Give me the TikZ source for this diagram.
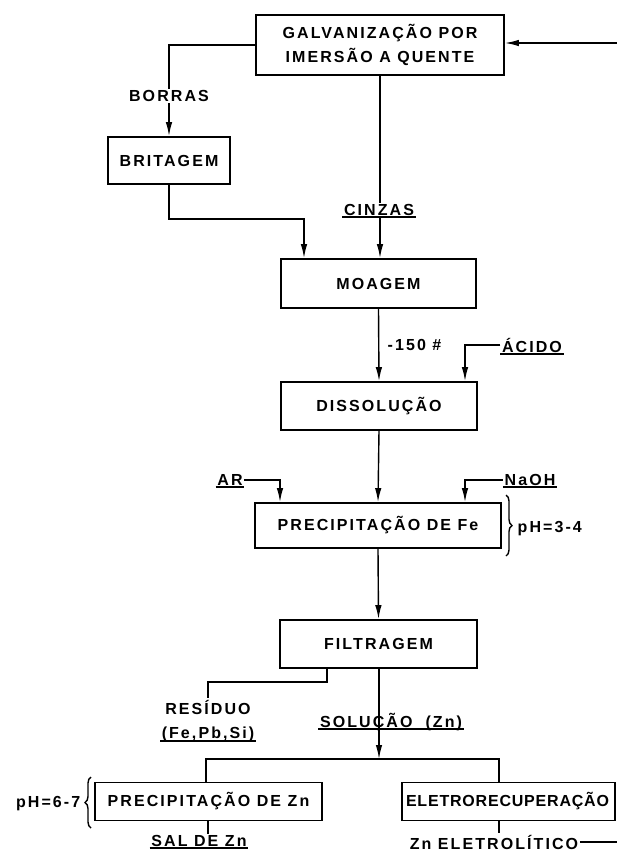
\documentclass[tikz,border=0pt]{standalone}
\usepackage{fontspec}
\newfontfamily\lettering[LetterSpace=13]{Liberation Sans Bold}
\usetikzlibrary{arrows.meta,decorations.pathreplacing}
\begin{document}
\begin{tikzpicture}[x=1pt,y=-1pt,
  every node/.style={font=\lettering\fontsize{16}{24}\selectfont},
  box/.style={draw,line width=1.8pt,inner sep=0pt,align=center},
  lbl/.style={inner sep=1.5pt,text depth=0pt},
  con/.style={line width=1.4pt},
  arr/.style={con,-{Latex[length=14pt,width=6.5pt]}},
  uline/.style={line width=1.6pt},
  brc/.style={line width=1.4pt,decorate,decoration={brace,amplitude=6pt}}]
\useasboundingbox (0,0) rectangle (617,860);
% boxes
\node[box,minimum width=248pt,minimum height=60pt] (galv) at (380,45) {GALVANIZAÇÃO POR\\IMERSÃO A QUENTE};
\node[box,minimum width=122pt,minimum height=47pt] (brit) at (169,160.5) {BRITAGEM};
\node[box,minimum width=195pt,minimum height=49pt] (moag) at (378.5,283.5) {MOAGEM};
\node[box,minimum width=196pt,minimum height=48pt] (diss) at (379,406) {DISSOLUÇÃO};
\node[box,minimum width=246pt,minimum height=45pt] (pfe) at (378,525.5) {PRECIPITAÇÃO DE Fe};
\node[box,minimum width=197pt,minimum height=48pt] (filt) at (378.5,644) {FILTRAGEM};
\node[box,minimum width=227pt,minimum height=38pt] (pzn) at (208.5,801.5) {PRECIPITAÇÃO DE Zn};
\node[box,minimum width=213pt,minimum height=38pt] (elet) at (508.5,801.5) {\makebox[205pt][l]{\addfontfeature{LetterSpace=5}ELETRORECUPERAÇÃO}};
% labels
\node[lbl] (borras) at (169,96) {BORRAS};
\node[lbl] (cinz) at (379,210) {CINZAS};
\node[lbl,anchor=west] (m150) at (386,345) {-150 \#};
\node[lbl] (acido) at (532,345) {ÁCIDO};
\node[lbl] (ar) at (230,480) {AR};
\node[lbl] (naoh) at (530,480) {NaOH};
\node[lbl,anchor=west] (ph34) at (516,527) {pH=3-4};
\node[lbl,align=center] (resid) at (208,719) {RESÍDUO\\(Fe,Pb,Si)};
\node[lbl] (sol) at (391,720) {SOLUÇÃO \ (Zn)};
\node[lbl,anchor=east] (ph67) at (82,802) {pH=6-7};
\node[lbl] (sal) at (199,841) {SAL DE Zn};
\node[lbl] (znel) at (494,842) {Zn ELETROLÍTICO};
% underlines
\draw[uline] (cinz.south west) -- (cinz.south east);
\draw[uline] (acido.south west) -- (acido.south east);
\draw[uline] (ar.south west) -- (ar.south east);
\draw[uline] (naoh.south west) -- (naoh.south east);
\draw[uline] (sol.south west) -- (sol.south east);
\draw[uline] ([yshift=-1pt]resid.south west) -- ([yshift=-1pt]resid.south east);
\draw[uline] (sal.south west) -- (sal.south east);
% coordinates
\coordinate (rin) at (617,43);
\coordinate (j1) at (304,219);
\coordinate (ax) at (465,0);
\coordinate (arx) at (280,0);
\coordinate (r1) at (327,682);
\coordinate (bar) at (379,759);
\coordinate (bl) at (206,759);
\coordinate (br) at (499,759);
\coordinate (sx) at (208,0);
\coordinate (ex) at (499,0);
\coordinate (rout) at (617,842);
% connectors
\draw[arr] (rin) -- (rin -| galv.east);
\draw[con] (galv.west |- 0,45) -| (borras.north);
\draw[arr] (borras.south) -- (brit.north);
\draw[con] (galv.south) -- (galv.south |- cinz.north);
\draw[arr] (galv.south |- cinz.south) -- (galv.south |- moag.north);
\draw[arr] (brit.south) |- (j1) -- (j1 |- moag.north);
\draw[arr] (moag.south) -- (diss.north);
\draw[arr] (acido.west) -| (ax |- diss.north);
\draw[arr] (diss.south) -- (pfe.north);
\draw[arr] (ar.east) -| (arx |- pfe.north);
\draw[arr] (naoh.west) -| (ax |- pfe.north);
\draw[brc] (506,495) -- (506,556);
\draw[arr] (pfe.south) -- (filt.north);
\draw[con] (r1 |- filt.south) -- (r1) -| (resid.north);
\draw[arr] (bar |- filt.south) -- (bar);
\draw[con] (bl |- pzn.north) -- (bl) -- (br) -- (br |- elet.north);
\draw[brc] (91,828) -- (91,777);
\draw[con] (sx |- pzn.south) -- (sx |- sal.north);
\draw[con] (ex |- elet.south) -- (ex |- znel.north);
\draw[con] (znel.east) -- (rout);
\end{tikzpicture}
\end{document}
